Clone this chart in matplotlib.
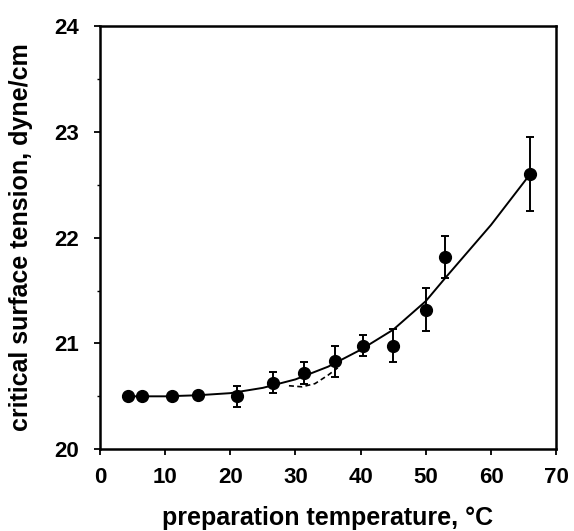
import matplotlib
matplotlib.use("Agg")
import matplotlib.pyplot as plt
from matplotlib.ticker import MultipleLocator

plt.rcParams['font.family'] = ['Liberation Sans', 'DejaVu Sans']
plt.rcParams['font.weight'] = 'bold'

# measured points
temp = [4.3, 6.5, 11, 15, 21, 26.5, 31.3, 36, 40.3, 45, 50, 53, 66]
tension = [20.5, 20.5, 20.5, 20.51, 20.5, 20.63, 20.72, 20.83, 20.98, 20.98, 21.32, 21.82, 22.6]
err = [0.0, 0.0, 0.0, 0.0, 0.1, 0.1, 0.1, 0.15, 0.1, 0.16, 0.2, 0.2, 0.35]

# fitted curve (solid)
fit_x = [4, 10, 15, 20, 25, 30, 35, 40, 45, 50, 53, 60, 66]
fit_y = [20.5, 20.5, 20.51, 20.53, 20.58, 20.66, 20.78, 20.94, 21.13, 21.40, 21.62, 22.12, 22.6]

# dashed segment
dash_x = [29, 31, 33, 35, 36.5]
dash_y = [20.6, 20.59, 20.62, 20.7, 20.77]

fig = plt.figure(figsize=(5.74, 5.31), dpi=100)
ax = fig.add_axes([0.174, 0.154, 0.795, 0.797])

ax.plot(fit_x, fit_y, color='black', lw=1.4, zorder=2)
ax.plot(dash_x, dash_y, color='black', lw=1.2, ls=(0, (3, 2)), zorder=2)
ax.errorbar(temp, tension, yerr=err, fmt='o', color='black', ms=8.5,
            elinewidth=1.4, capsize=3, capthick=1.4, zorder=3)

ax.set_xlim(0, 70)
ax.set_ylim(20, 24)
ax.xaxis.set_major_locator(MultipleLocator(10))
ax.yaxis.set_major_locator(MultipleLocator(1))
ax.yaxis.set_minor_locator(MultipleLocator(0.5))

for s in ax.spines.values():
    s.set_linewidth(1.8)

ax.tick_params(axis='both', which='major', direction='out', length=4, width=1.3,
               labelsize=16)
ax.tick_params(axis='x', which='major', pad=9)
ax.tick_params(axis='y', which='major', pad=11)
ax.tick_params(axis='y', which='minor', direction='out', length=2.5, width=1.0)

ax.set_xlabel('preparation temperature, °C', fontsize=18, fontweight='bold', labelpad=13)
ax.set_ylabel('critical surface tension, dyne/cm', fontsize=18, fontweight='bold')
ax.yaxis.set_label_coords(-0.147, 0.5)

fig.savefig('out.png', dpi=100)
